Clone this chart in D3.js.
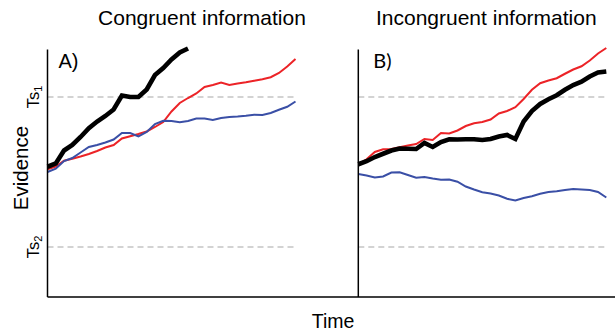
<!DOCTYPE html>
<html><head><meta charset="utf-8">
<script src="https://cdn.jsdelivr.net/npm/d3@7"></script>
<style>html,body{margin:0;padding:0;background:#fff;}svg{display:block;}</style>
</head><body>
<svg id="c" width="615" height="331"></svg>
<script>
// ---- data (time steps 0..30, evidence 0..100) ----
const panelTitles = ["Congruent information", "Incongruent information"];
const panelLabels = ["A)", "B)"];
const thresholds = [80, 20];            // Ts1, Ts2
const thresholdNames = ["1", "2"];
const blackA = [52.1,53.4,58.6,60.8,64.0,67.5,70.2,72.4,75.0,80.6,80.0,80.0,83.0,88.8,91.6,95.0,97.8,99.4];
const redA   = [51.1,52.2,54.5,55.3,56.2,57.2,58.4,59.8,60.8,63.4,64.3,65.2,66.2,68.0,70.0,74.2,77.6,79.6,81.4,84.0,84.8,85.8,84.8,85.4,85.9,86.5,87.1,87.9,89.6,92.2,95.2];
const blueA  = [50.0,51.3,54.4,55.6,57.8,60.0,60.8,61.8,63.0,65.6,65.6,64.2,66.0,69.2,70.5,70.4,69.9,70.4,71.4,71.4,70.8,71.6,72.0,72.2,72.5,72.9,72.8,73.6,74.9,76.1,78.2];
const blackB = [53.1,54.3,56.0,57.3,58.6,59.4,59.3,59.2,61.6,60.0,62.0,63.1,63.0,63.1,63.1,62.8,63.2,64.2,64.8,63.2,70.2,74.4,77.2,79.1,80.7,82.9,84.8,86.1,88.2,89.8,90.2];
const redB   = [53.1,55.1,58.0,59.1,59.2,59.9,60.6,61.2,63.2,62.8,65.6,65.4,66.6,68.4,69.5,70.0,71.0,73.4,74.4,75.9,79.2,82.9,85.5,86.6,87.5,89.3,91.0,92.3,94.6,97.4,99.6];
const blueB  = [49.2,48.6,47.8,48.2,49.8,49.9,48.8,47.7,48.0,47.4,46.9,47.0,46.1,44.2,43.0,41.9,41.4,40.6,39.3,38.6,39.6,40.3,41.3,42.0,42.3,42.8,43.2,43.0,42.8,42.0,39.8];

const panels = [
  {x0: 47.5, series: [{v: redA, c: "#ec2327", w: 2}, {v: blueA, c: "#3a4fa6", w: 2}, {v: blackA, c: "#000", w: 4.6}]},
  {x0: 358.3, series: [{v: blueB, c: "#3a4fa6", w: 2}, {v: redB, c: "#ec2327", w: 2}, {v: blackB, c: "#000", w: 4.6}]}
];

const FONT = "Liberation Sans, Arial, Helvetica, sans-serif";
const svg = d3.select("#c");
const W = 615;
const y = d3.scaleLinear().domain([0, 100]).range([297, 47]);
const panelW = 248;

panels.forEach((p, i) => {
  const x = d3.scaleLinear().domain([0, 30]).range([p.x0, p.x0 + panelW]);
  const g = svg.append("g");
  thresholds.forEach(t => {
    g.append("line").attr("x1", x(0)).attr("x2", x(30)).attr("y1", y(t)).attr("y2", y(t))
      .attr("stroke", "#a8a8a8").attr("stroke-width", 1.2).attr("stroke-dasharray", "6,4");
  });
  const line = d3.line().x((d, k) => x(k)).y(d => y(d));
  p.series.forEach(s => {
    g.append("path").attr("d", line(s.v)).attr("fill", "none").attr("stroke", s.c)
      .attr("stroke-width", s.w).attr("stroke-linejoin", "miter").attr("stroke-linecap", "butt");
  });
  g.append("line").attr("x1", x(0)).attr("x2", x(0)).attr("y1", y(99)).attr("y2", y(0))
    .attr("stroke", "#000").attr("stroke-width", 1.5);
  g.append("text").attr("x", x(0) + (i === 0 ? 11 : 15)).attr("y", 68)
    .attr("font-family", i === 0 ? FONT : "Lato, sans-serif")
    .attr("font-size", i === 0 ? 20 : 20).text(panelLabels[i]);
  g.append("text").attr("x", x(15) + (i === 0 ? 30.5 : 4)).attr("y", 25).attr("text-anchor", "middle")
    .attr("font-family", FONT).attr("font-size", 21).text(panelTitles[i]);
});

svg.append("line").attr("x1", 47.5).attr("x2", W).attr("y1", y(0)).attr("y2", y(0))
  .attr("stroke", "#000").attr("stroke-width", 1.5);

thresholds.forEach((t, k) => {
  const tx = svg.append("text").attr("transform", `translate(39,${y(t)}) rotate(-90)`)
    .attr("text-anchor", "middle").attr("font-family", FONT).attr("font-size", 16.5);
  tx.append("tspan").text("Ts");
  tx.append("tspan").attr("font-size", 11).attr("dy", 3).text(thresholdNames[k]);
});

svg.append("text").attr("transform", `translate(28,168) rotate(-90)`).attr("text-anchor", "middle")
  .attr("font-family", FONT).attr("font-size", 20.5).text("Evidence");
svg.append("text").attr("x", 333).attr("y", 328).attr("text-anchor", "middle")
  .attr("font-family", FONT).attr("font-size", 19.5).text("Time");
</script>
</body></html>
